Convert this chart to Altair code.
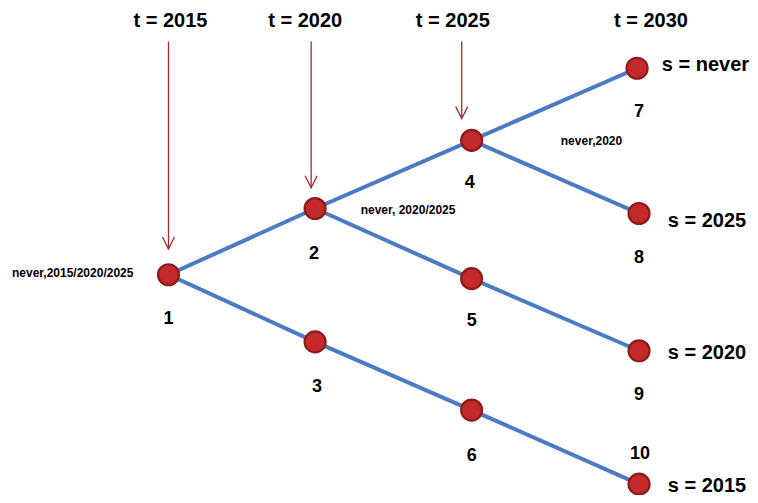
import altair as alt
import pandas as pd

# Tree nodes (layout position in picture units)
node_ids = [1, 2, 3, 4, 5, 6, 7, 8, 9, 10]
node_x = [170, 318, 318, 476, 476, 476, 643, 645, 645, 645]
node_y = [278, 211, 346, 142, 282, 415, 69, 216, 355, 490]
# number labels under the nodes
num_x = [170, 317, 320, 474, 476, 476, 645, 645, 645, 646]
num_y = [323, 257, 392, 185, 325, 462, 113, 261, 400, 460]

# edges (parent, child)
edge_from = [1, 1, 2, 2, 3, 4, 4, 5, 6]
edge_to = [2, 3, 4, 5, 6, 7, 8, 9, 10]

# time labels at the top
t_labels = ["t = 2015", "t = 2020", "t = 2025", "t = 2030"]
t_x = [172, 308, 457, 657]
t_y = [21, 21, 21, 21]

# arrows from time labels down to decision nodes
arrow_x = [170, 314, 466]
arrow_top = [42, 42, 42]
arrow_tip = [252, 190, 120]

# scenario labels on the leaves
s_labels = ["s = never", "s = 2025", "s = 2020", "s = 2015"]
s_x = [668, 674, 674, 674]
s_y = [66, 224, 357, 492]

# small annotation labels
ann_labels = ["never,2015/2020/2025", "never, 2020/2025", "never,2020"]
ann_x = [12, 364, 566]
ann_y = [276, 212, 143]

nodes = pd.DataFrame({"id": node_ids, "x": node_x, "y": node_y})
nums = pd.DataFrame({"label": [str(i) for i in node_ids], "x": num_x, "y": num_y})
pos = dict(zip(node_ids, zip(node_x, node_y)))
edges = pd.DataFrame({
    "x": [pos[a][0] for a in edge_from], "y": [pos[a][1] for a in edge_from],
    "x2": [pos[b][0] for b in edge_to], "y2": [pos[b][1] for b in edge_to],
})
tdf = pd.DataFrame({"label": t_labels, "x": t_x, "y": t_y})
adf = pd.DataFrame({"x": arrow_x, "y": arrow_top, "y2": arrow_tip})
sdf = pd.DataFrame({"label": s_labels, "x": s_x, "y": s_y})
anndf = pd.DataFrame({"label": ann_labels, "x": ann_x, "y": ann_y})

W, H = 742, 487
xs = alt.Scale(domain=[8, 757], nice=False, zero=False)
ys = alt.Scale(domain=[8, 501], nice=False, zero=False, reverse=True)
X = lambda f="x": alt.X(f, type="quantitative", scale=xs, axis=None)
Y = lambda f="y": alt.Y(f, type="quantitative", scale=ys, axis=None)

FONT = "Liberation Sans"

edge_layer = alt.Chart(edges).mark_rule(color="#4a7bc4", strokeWidth=4, strokeCap="round").encode(
    x=X(), y=Y(), x2="x2:Q", y2="y2:Q")

arrow_line = alt.Chart(adf).mark_rule(color="#9e2a2f", strokeWidth=1.3).encode(
    x=X(), y=Y(), y2="y2:Q")
arrow_head = alt.Chart(adf).mark_point(
    shape="M-0.5,-1L0,0L0.5,-1", filled=False, color="#9e2a2f", strokeWidth=1.3,
    size=576, opacity=1).encode(x=X(), y=Y("y2"))

node_layer = alt.Chart(nodes).mark_point(
    shape="circle", filled=True, size=440, fill="#c42a2a", stroke="#8a1c1c",
    strokeWidth=2.2, opacity=1).encode(x=X(), y=Y())

num_layer = alt.Chart(nums).mark_text(
    font=FONT, fontSize=18, fontWeight="bold", color="#000000", baseline="middle").encode(
    x=X(), y=Y(), text="label:N")

t_layer = alt.Chart(tdf).mark_text(
    font=FONT, fontSize=20, fontWeight="bold", color="#000000", baseline="middle").encode(
    x=X(), y=Y(), text="label:N")

s_layer = alt.Chart(sdf).mark_text(
    font=FONT, fontSize=20, fontWeight="bold", color="#000000", baseline="middle",
    align="left").encode(x=X(), y=Y(), text="label:N")

ann_layer = alt.Chart(anndf).mark_text(
    font=FONT, fontSize=12, fontWeight="bold", color="#000000", baseline="middle",
    align="left").encode(x=X(), y=Y(), text="label:N")

chart = alt.layer(
    edge_layer, arrow_line, arrow_head, node_layer, num_layer, t_layer, s_layer, ann_layer
).properties(
    width=W, height=H, autosize=alt.AutoSizeParams(type="none"), padding=0,
    background="white"
).configure_view(stroke=None)

chart.save("out.html", embed_options={"renderer": "svg", "actions": False})
